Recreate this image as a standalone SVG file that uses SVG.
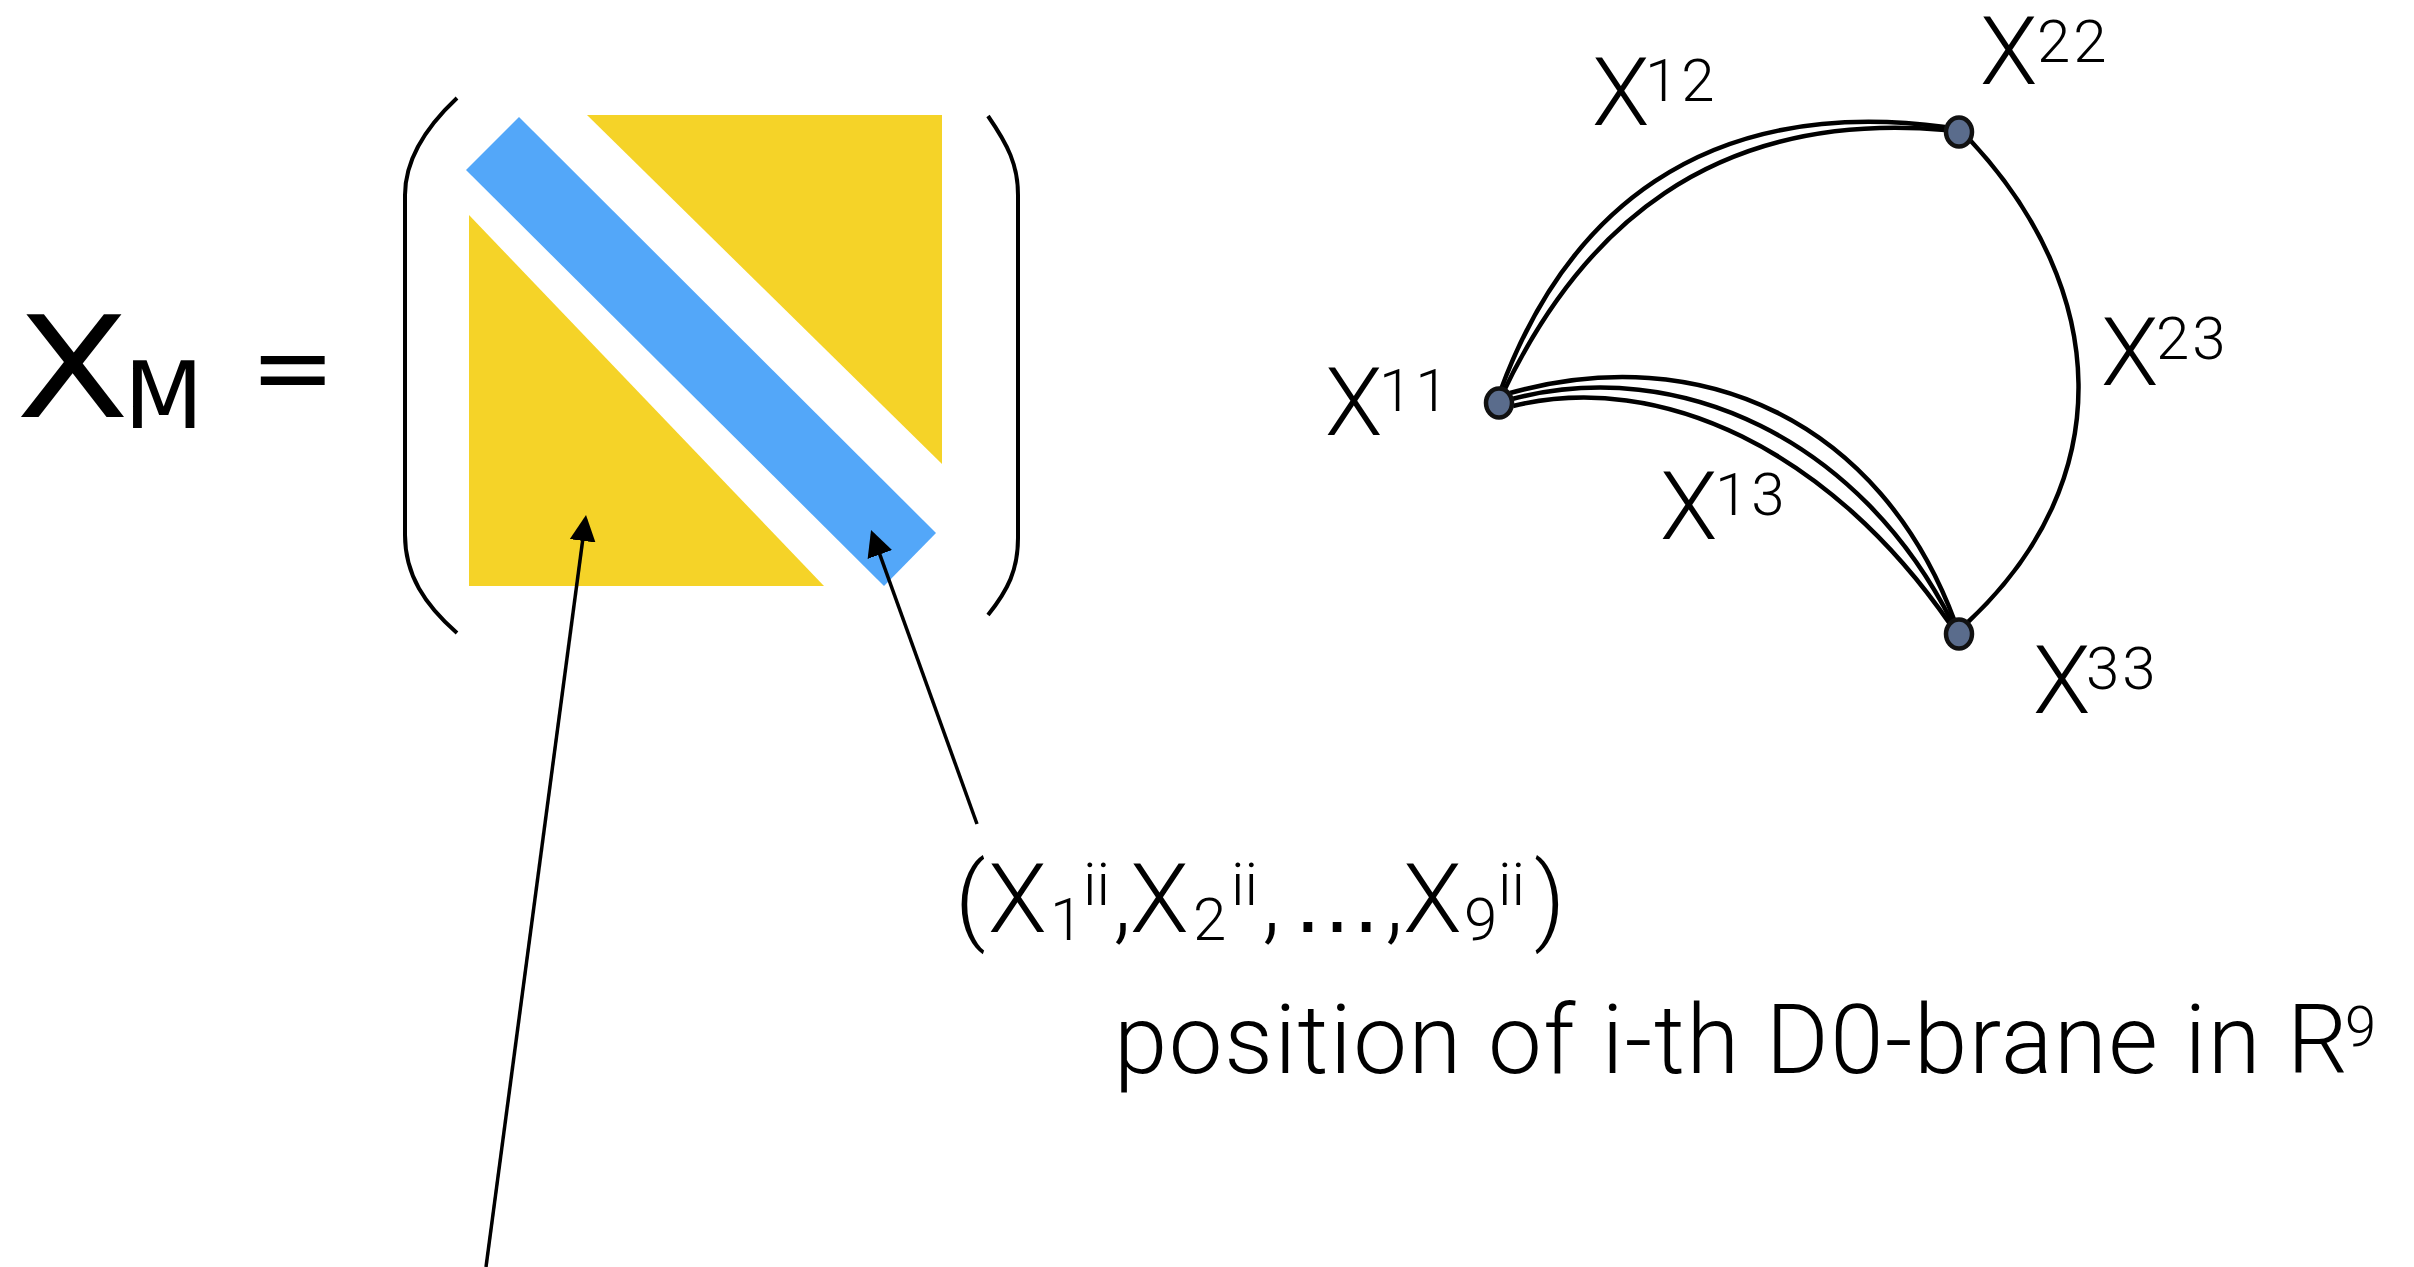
<svg xmlns="http://www.w3.org/2000/svg" width="2414" height="1267" viewBox="0 0 2414 1267">
<style>
.t{font-family:Roboto,"Liberation Sans",sans-serif;font-weight:300;fill:#000}
.m{font-size:96px}
.g{font-size:94px}
.s{font-size:60px}
.sp{font-size:60px;letter-spacing:3px}
.el{font-family:"Liberation Sans",Arial,sans-serif;font-weight:400;font-size:92px}
.d{font-family:"DejaVu Sans",sans-serif;fill:#000}
.br{fill:none;stroke:#000;stroke-width:4}
.e{fill:none;stroke:#000;stroke-width:4.5}
.n{fill:#5A6C8C;stroke:#111;stroke-width:4.5}
.ar{fill:none;stroke:#000;stroke-width:3.5}
</style>
<defs>
<marker id="ah" viewBox="0 0 26 26" refX="22" refY="13" markerWidth="26" markerHeight="26" markerUnits="userSpaceOnUse" orient="auto">
<path d="M0,0 L26,13 L0,26 Z" fill="#000"/>
</marker>
</defs>
<rect width="2414" height="1267" fill="#fff"/>

<g id="matrix-label">
<text class="d" transform="translate(16,417) scale(1.18,1)" x="0" y="0" font-size="140">X</text>
<text class="d" x="124" y="428" font-size="92">M</text>
<text class="d" x="250" y="403" font-size="102">=</text>
</g>

<g id="matrix">
<path class="br" d="M457,98 C425,128 405,160 405,195 L405,535 C405,575 425,605 457,633"/>
<path class="br" d="M988,116 C1008,145 1018,165 1018,195 L1018,538 C1018,570 1008,590 988,615"/>
<polygon id="upper" points="587,115 942,115 942,464" fill="#F5D328"/>
<polygon id="lower" points="469,215 469,586 824,586" fill="#F5D328"/>
<polygon id="diag" points="519,117 466,170 884,586 936,533" fill="#53A7F9"/>
</g>

<g id="arrows">
<line class="ar" x1="486" y1="1267" x2="585.5" y2="519" marker-end="url(#ah)"/>
<line class="ar" x1="977" y1="824" x2="872.4" y2="533.8" marker-end="url(#ah)"/>
</g>

<g id="diag-label">
<text class="t m" y="932"><tspan x="955">(</tspan><tspan x="988">X</tspan><tspan class="s" x="1050" y="940">1</tspan><tspan class="s" x="1083" y="905">ii</tspan><tspan x="1113" y="932">,</tspan><tspan x="1130">X</tspan><tspan class="s" x="1193" y="940">2</tspan><tspan class="s" x="1231" y="905">ii</tspan><tspan x="1262" y="932">,</tspan><tspan class="el" x="1291">…</tspan><tspan x="1385">,</tspan><tspan x="1403">X</tspan><tspan class="s" x="1464" y="940">9</tspan><tspan class="s" x="1498" y="905">ii</tspan><tspan x="1534" y="932">)</tspan></text>
<text class="t" font-size="96" x="1114" y="1073" textLength="1234">position of i-th D0-brane in R</text>
<text class="t" font-size="56" x="2345" y="1046">9</text>
</g>

<g id="edges">
<path class="e" d="M1500,392 C1565,215 1700,95 1945,127"/>
<path class="e" d="M1502,395 C1580,230 1710,110 1945,130"/>
<path class="e" d="M1510,393 C1700,340 1880,420 1955,622"/>
<path class="e" d="M1512,399 C1680,355 1860,440 1952,622"/>
<path class="e" d="M1513,406 C1660,370 1830,450 1950,624"/>
<path class="e" d="M1970,140 C2110,290 2120,480 1968,622"/>
</g>

<g id="node-x11"><ellipse class="n" cx="1499" cy="403" rx="13" ry="14.5"/><text class="t g" x="1325" y="435">X<tspan class="sp" x="1379" y="411">11</tspan></text></g>
<g id="node-x22"><ellipse class="n" cx="1959" cy="132" rx="13" ry="14.5"/><text class="t g" x="1980" y="84">X<tspan class="sp" x="2037" y="62">22</tspan></text></g>
<g id="node-x33"><ellipse class="n" cx="1959" cy="634" rx="13" ry="14.5"/><text class="t g" x="2033" y="713">X<tspan class="sp" x="2086" y="689">33</tspan></text></g>
<g id="edge-labels">
<text class="t g" x="1592" y="125">X<tspan class="sp" x="1645" y="101">12</tspan></text>
<text class="t g" x="2101" y="385">X<tspan class="sp" x="2156" y="359">23</tspan></text>
<text class="t g" x="1660" y="539">X<tspan class="sp" x="1715" y="515">13</tspan></text>
</g>
</svg>
